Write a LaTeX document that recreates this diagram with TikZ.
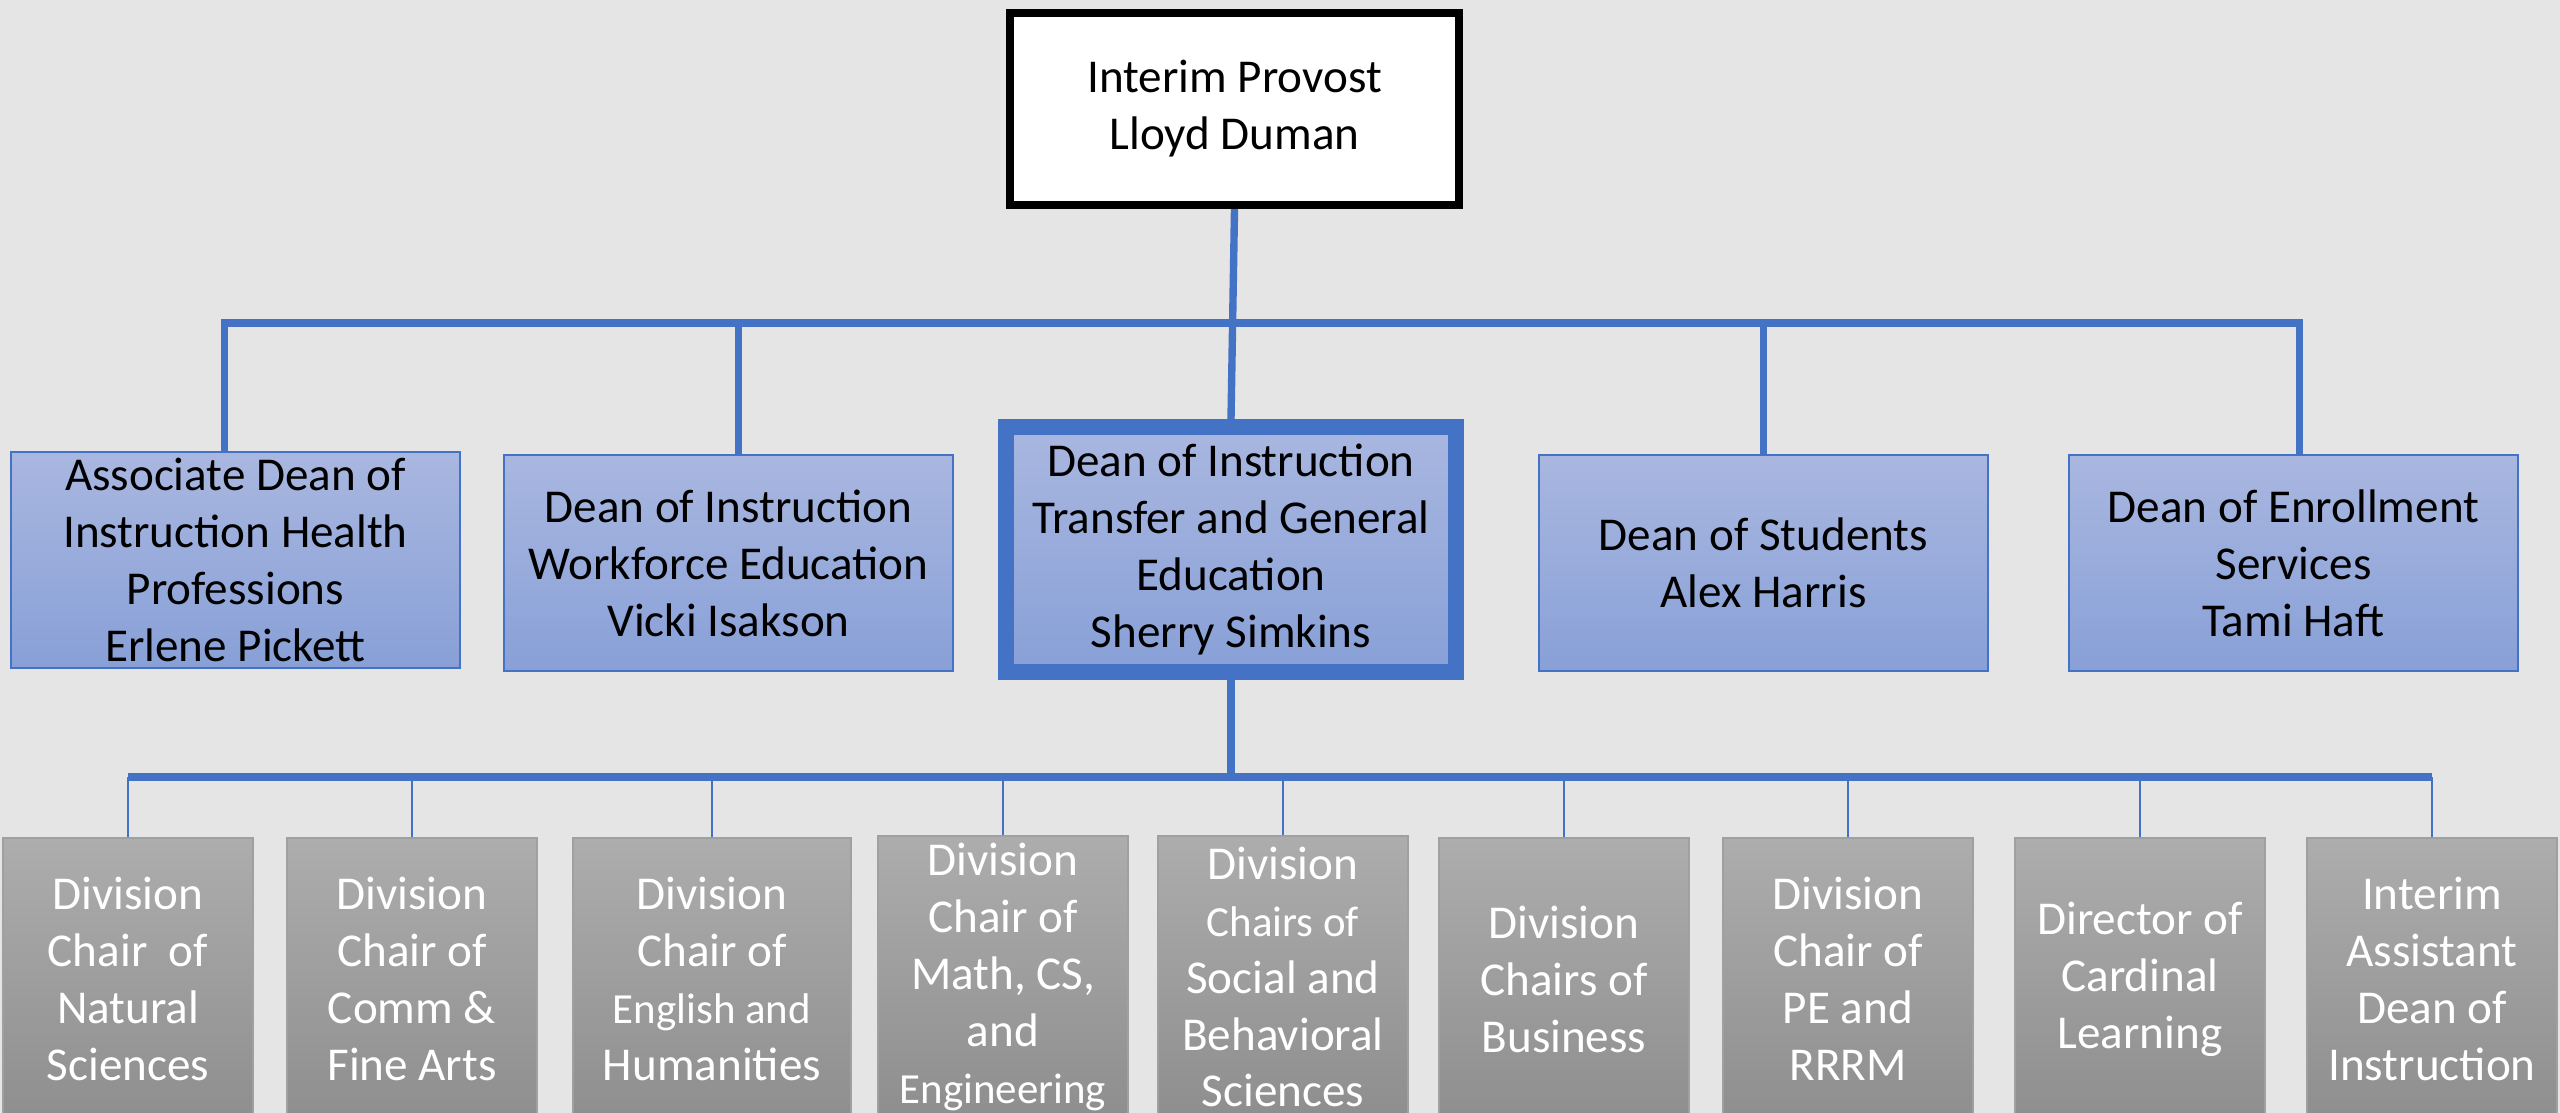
\documentclass[tikz,border=0pt]{standalone}
\usepackage{fontspec}
\setmainfont{Carlito}
\usetikzlibrary{calc}
\definecolor{mybg}{RGB}{229, 229, 229}
\definecolor{myblue}{RGB}{68, 114, 196}
\definecolor{bluetop}{RGB}{169, 183, 224}
\definecolor{bluebot}{RGB}{136, 160, 215}
\definecolor{graytop}{RGB}{173, 173, 173}
\definecolor{graybot}{RGB}{142, 142, 142}
\definecolor{grayline}{RGB}{160, 160, 160}
\newcommand{\smtxt}[1]{{\fontsize{12.2}{15.6}\selectfont #1}}

\begin{document}
\begin{tikzpicture}[
    x = 0.01cm, y = -0.01cm,
    every node/.style = {font = \fontsize{13.4}{16.2}\selectfont, align = center, inner sep = 0pt},
    head/.style = {draw = black, line width = 2.3pt, fill = white, minimum width = 4.49cm, minimum height = 1.92cm},
    dean/.style = {draw = myblue, line width = 0.5pt, top color = bluetop, bottom color = bluebot, minimum width = 4.49cm, minimum height = 2.16cm},
    deanmain/.style = {dean, line width = 4.5pt, minimum width = 4.50cm, minimum height = 2.45cm},
    chair/.style = {draw = grayline, line width = 0.6pt, top color = graytop, bottom color = graybot, text = white, minimum width = 2.50cm, minimum height = 2.82cm},
    c0/.style = {draw = myblue, line width = 2.1pt},
    c1/.style = {draw = myblue, line width = 0.5pt},
]

\useasboundingbox (0,0) rectangle (2560,1113);
\fill[mybg] (0,0) rectangle (2560,1113);

% top
\node[head] (prov) at (1234.5,109) {Interim Provost\\Lloyd Duman};

% deans
\node[dean] (assoc) at (235.5,560) {Associate Dean of\\Instruction Health\\Professions\\Erlene Pickett};
\node[dean] (dwf) at (728.5,563) {Dean of Instruction\\Workforce Education\\Vicki Isakson};
\node[deanmain] (dtg) at (1231,549.5) {Dean of Instruction\\Transfer and General\\Education\\Sherry Simkins};
\node[dean] (dstu) at (1763.5,563) {Dean of Students\\Alex Harris};
\node[dean] (enroll) at (2293.5,563) {Dean of Enrollment\\Services\\Tami Haft};

% chairs
\node[chair] (ch1) at (128,979) {Division\\Chair\ \ of\\Natural\\Sciences};
\node[chair] (ch2) at (412,979) {Division\\Chair of\\Comm \&\\Fine Arts};
\node[chair, minimum width = 2.78cm] (ch3) at (712,979) {Division\\Chair of\\\smtxt{English and}\\Humanities};
\node[chair] (ch4) at (1003,977) {Division\\Chair of\\Math, CS,\\and\\\smtxt{Engineering}};
\node[chair] (ch5) at (1283,977) {Division\\\smtxt{Chairs of}\\Social and\\Behavioral\\Sciences};
\node[chair] (ch6) at (1564,979) {Division\\Chairs of\\Business};
\node[chair] (ch7) at (1848,979) {Division\\Chair of\\PE and\\RRRM};
\node[chair] (ch8) at (2140,979) {Director of\\Cardinal\\Learning};
\node[chair] (ch9) at (2432,979) {Interim\\Assistant\\Dean of\\Instruction};

% connectors
\coordinate (bar1) at (1232,323);
\coordinate (bar2) at (1231,777);
\coordinate (a1) at ([xshift = -0.11cm]assoc.north);
\coordinate (e1) at ([xshift = 0.06cm]enroll.north);
\coordinate (b1) at ([xshift = 0.10cm]dwf.north);
\draw[c0] (prov.south) -- (dtg.north);
\draw[c0] (a1) -- (a1 |- bar1) -- (e1 |- bar1) -- (e1);
\draw[c0] (b1) -- (b1 |- bar1);
\draw[c0] (dstu.north) -- (dstu.north |- bar1);
\draw[c0] (dtg.south) -- (bar2);
\draw[c0, line width = 2.3pt] (ch1.north |- bar2) -- (ch9.north |- bar2);
\foreach \i in {1,...,9}
  \draw[c1] (ch\i.north) -- (ch\i.north |- bar2);

\end{tikzpicture}
\end{document}
